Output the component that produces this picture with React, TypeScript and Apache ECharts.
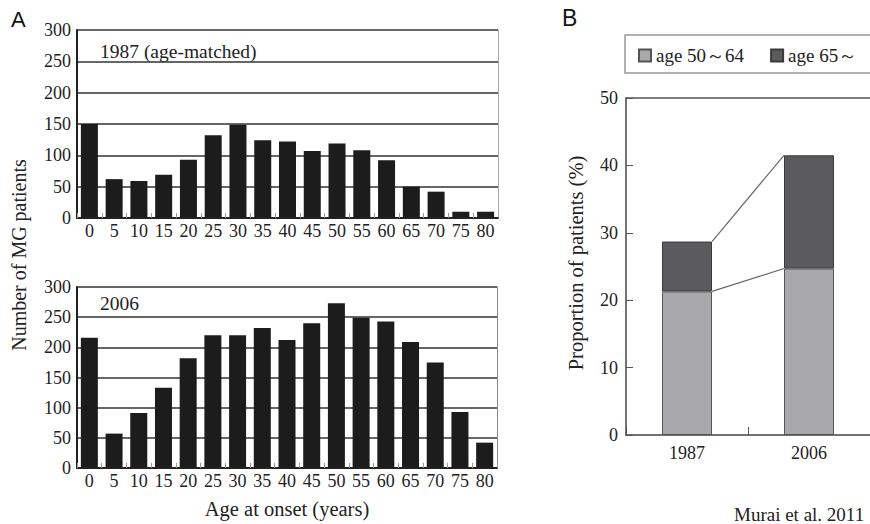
import React, { useEffect, useRef } from "react";
import * as echarts from "echarts";

// ---- Data ----
const ageGroups = ["0", "5", "10", "15", "20", "25", "30", "35", "40", "45", "50", "55", "60", "65", "70", "75", "80"];
const counts1987 = [150, 62, 59, 69, 93, 132, 149, 124, 122, 107, 119, 108, 92, 50, 42, 10, 10];
const counts2006 = [216, 57, 91, 133, 182, 220, 220, 232, 212, 240, 273, 249, 243, 209, 175, 93, 42];
const countTicks = { min: 0, max: 300, interval: 50 };

const yearsB = ["1987", "2006"];
const age50to64 = [21.3, 24.7];
const age65plus = [7.4, 16.8];
const propTicks = { min: 0, max: 50, interval: 10 };

const seriesNames = ["age 50～64", "age 65～"];

const SERIF = "Liberation Serif";
const SANS = "Liberation Sans";
const TXT = "#222";

function App() {
  const ref = useRef<HTMLDivElement>(null);

  useEffect(() => {
    if (!ref.current) return;
    const chart = echarts.init(ref.current, undefined, { renderer: "svg" });

    const ageX = (gridIndex: number) => ({
      type: "category",
      gridIndex,
      data: ageGroups,
      boundaryGap: true,
      axisLine: { show: true, lineStyle: { color: "#222", width: 2 } },
      axisTick: { show: true, inside: true, length: 5, lineStyle: { color: "#999", width: 1 } },
      axisLabel: { interval: 0, fontSize: 18, fontFamily: SERIF, color: TXT, margin: 4 },
      z: 5,
    });
    const countY = (gridIndex: number) => ({
      type: "value",
      gridIndex,
      ...countTicks,
      axisLine: { show: true, lineStyle: { color: "#222", width: 2 } },
      axisTick: { show: false },
      splitLine: { show: true, lineStyle: { color: "#333", width: 1.5 } },
      axisLabel: { fontSize: 18, fontFamily: SERIF, color: TXT, margin: 6 },
    });
    const borderY = (gridIndex: number, color: string) => ({
      type: "value",
      gridIndex,
      position: "right",
      ...countTicks,
      axisLine: { show: true, lineStyle: { color, width: 1 } },
      axisTick: { show: false },
      axisLabel: { show: false },
      splitLine: { show: false },
    });

    const option: any = {
      animation: false,
      backgroundColor: "#ffffff",
      textStyle: { fontFamily: SERIF },
      grid: [
        { left: 77, top: 30, width: 421, height: 188 },
        { left: 77, top: 287, width: 420, height: 181 },
        { left: 626, top: 98, width: 249, height: 337 },
      ],
      xAxis: [
        ageX(0),
        ageX(1),
        {
          type: "category",
          gridIndex: 2,
          data: yearsB,
          boundaryGap: true,
          axisLine: { show: true, lineStyle: { color: "#444", width: 1.5 } },
          axisTick: { show: true, inside: true, length: 8, lineStyle: { color: "#555", width: 1 } },
          axisLabel: { fontSize: 18, fontFamily: SERIF, color: TXT, margin: 9 },
        },
        {
          type: "category",
          gridIndex: 2,
          position: "top",
          data: yearsB,
          axisLine: { show: true, lineStyle: { color: "#555", width: 1.5 } },
          axisTick: { show: false },
          axisLabel: { show: false },
        },
      ],
      yAxis: [
        countY(0),
        countY(1),
        {
          type: "value",
          gridIndex: 2,
          ...propTicks,
          axisLine: { show: true, lineStyle: { color: "#444", width: 1.5 } },
          axisTick: { show: true, inside: true, length: 7, lineStyle: { color: "#555", width: 1 } },
          splitLine: { show: false },
          axisLabel: { fontSize: 18, fontFamily: SERIF, color: TXT, margin: 8 },
        },
        borderY(0, "#aaa"),
        borderY(1, "#888"),
      ],
      legend: {
        data: seriesNames,
        left: 638,
        top: 46,
        padding: 0,
        icon: "rect",
        itemWidth: 12,
        itemHeight: 12,
        itemGap: 26,
        textStyle: { fontSize: 19, fontFamily: SERIF, color: TXT },
      },
      series: [
        {
          type: "bar",
          xAxisIndex: 0,
          yAxisIndex: 0,
          data: counts1987,
          barWidth: 17,
          itemStyle: { color: "#1c1c1c" },
          z: 3,
        },
        {
          type: "bar",
          xAxisIndex: 1,
          yAxisIndex: 1,
          data: counts2006,
          barWidth: 17,
          itemStyle: { color: "#1c1c1c" },
          z: 3,
        },
        {
          name: seriesNames[0],
          type: "bar",
          xAxisIndex: 2,
          yAxisIndex: 2,
          stack: "b",
          data: age50to64,
          barWidth: 50,
          itemStyle: { color: "#a9a9ac", borderColor: "#555", borderWidth: 1 },
        },
        {
          name: seriesNames[1],
          type: "bar",
          xAxisIndex: 2,
          yAxisIndex: 2,
          stack: "b",
          data: age65plus,
          barWidth: 50,
          itemStyle: { color: "#5b5b5e", borderColor: "#3a3a3a", borderWidth: 1 },
        },
        {
          type: "custom",
          xAxisIndex: 2,
          yAxisIndex: 2,
          data: yearsB.slice(0, -1).map((_, i) => [i]),
          silent: true,
          z: 4,
          renderItem: (params: any, api: any) => {
            const i = api.value(0);
            const half = 25;
            const tot0 = age50to64[i] + age65plus[i];
            const tot1 = age50to64[i + 1] + age65plus[i + 1];
            const a0 = api.coord([i, tot0]);
            const a1 = api.coord([i + 1, tot1]);
            const b0 = api.coord([i, age50to64[i]]);
            const b1 = api.coord([i + 1, age50to64[i + 1]]);
            const st = { stroke: "#666", lineWidth: 1.2 };
            return {
              type: "group",
              children: [
                { type: "line", shape: { x1: a0[0] + half, y1: a0[1], x2: a1[0] - half, y2: a1[1] }, style: st },
                { type: "line", shape: { x1: b0[0] + half, y1: b0[1], x2: b1[0] - half, y2: b1[1] }, style: st },
              ],
            };
          },
        },
      ],
      graphic: [
        {
          type: "rect",
          shape: { x: 625, y: 35, width: 270, height: 38 },
          style: { fill: "none", stroke: "#999", lineWidth: 1.5 },
        },
        {
          type: "text",
          x: 11,
          y: 8,
          style: { text: "A", fontSize: 22, fontFamily: SANS, fill: "#111" },
        },
        {
          type: "text",
          x: 562,
          y: 6,
          style: { text: "B", fontSize: 23, fontFamily: SANS, fill: "#111" },
        },
        {
          type: "text",
          x: 100,
          y: 41,
          style: { text: "1987 (age-matched)", fontSize: 19.5, fontFamily: SERIF, fill: TXT },
        },
        {
          type: "text",
          x: 100,
          y: 293,
          style: { text: "2006", fontSize: 19.5, fontFamily: SERIF, fill: TXT },
        },
        {
          type: "text",
          x: 19,
          y: 255,
          rotation: Math.PI / 2,
          style: {
            text: "Number of MG patients",
            fontSize: 20,
            fontFamily: SERIF,
            fill: TXT,
            align: "center",
            verticalAlign: "middle",
            textAlign: "center",
            textVerticalAlign: "middle",
          },
        },
        {
          type: "text",
          x: 287,
          y: 509,
          style: {
            text: "Age at onset (years)",
            fontSize: 20.5,
            fontFamily: SERIF,
            fill: TXT,
            align: "center",
            verticalAlign: "middle",
            textAlign: "center",
            textVerticalAlign: "middle",
          },
        },
        {
          type: "text",
          x: 576,
          y: 263,
          rotation: Math.PI / 2,
          style: {
            text: "Proportion of patients (%)",
            fontSize: 20.5,
            fontFamily: SERIF,
            fill: TXT,
            align: "center",
            verticalAlign: "middle",
            textAlign: "center",
            textVerticalAlign: "middle",
          },
        },
        {
          type: "text",
          x: 734,
          y: 514,
          style: {
            text: "Murai et al. 2011",
            fontSize: 19,
            fontFamily: SERIF,
            fill: TXT,
            verticalAlign: "middle",
            textVerticalAlign: "middle",
          },
        },
      ],
    };

    chart.setOption(option);
    return () => chart.dispose();
  }, []);

  return (
    <div
      ref={ref}
      style={{ position: "absolute", left: 0, top: 0, width: 870, height: 524, background: "#fff" }}
    />
  );
}

export default App;
